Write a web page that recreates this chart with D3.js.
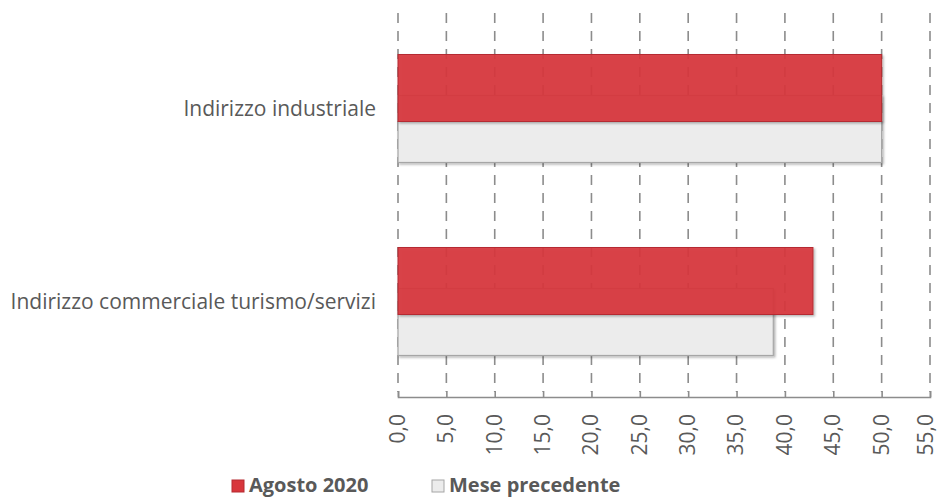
<!DOCTYPE html>
<html>
<head>
<script src="https://d3js.org/d3.v7.min.js"></script>
<style>
  body {margin: 0; background: #fff; font-family: "Open Sans", "Noto Sans", sans-serif;}
</style>
</head>
<body>
<script>
// chart data
const categories = ["Indirizzo industriale", "Indirizzo commerciale turismo/servizi"];
const agosto = [50.0, 42.9];
const precedente = [50.0, 38.8];
const seriesNames = ["Agosto 2020", "Mese precedente"];
const ticks = d3.range(0, 56, 5);

const width = 942, height = 499;
const svg = d3.select("body").append("svg")
  .attr("width", width).attr("height", height);

// scales
const x = d3.scaleLinear().domain([0, 55]).range([398, 930]);
const y = d3.scaleBand().domain(categories).range([12, 398]);
const barH = 67, off = 20.5;

// dashed vertical grid
svg.append("g").selectAll("line").data(ticks).join("line")
  .attr("x1", d => x(d)).attr("x2", d => x(d))
  .attr("y1", 13).attr("y2", 392)
  .attr("stroke", "#8c8c8c").attr("stroke-width", 1.6)
  .attr("stroke-dasharray", "10,8");

// soft shadow
const defs = svg.append("defs");
const f = defs.append("filter").attr("id", "sh").attr("x", "-5%").attr("y", "-10%").attr("width", "110%").attr("height", "130%");
f.append("feDropShadow").attr("dx", 1.5).attr("dy", 1.5).attr("stdDeviation", 1.2)
  .attr("flood-color", "#000").attr("flood-opacity", 0.3);

// grey bars (previous month)
svg.append("g").selectAll("rect").data(categories).join("rect")
  .attr("x", x(0))
  .attr("y", d => y(d) + y.bandwidth() / 2 + off - barH / 2)
  .attr("width", (d, i) => x(precedente[i]) - x(0))
  .attr("height", barH)
  .attr("fill", "#ececec")
  .attr("stroke", "#a6a6a6").attr("stroke-width", 1.2)
  .attr("filter", "url(#sh)");

// red bars (August 2020)
svg.append("g").selectAll("rect").data(categories).join("rect")
  .attr("x", x(0))
  .attr("y", d => y(d) + y.bandwidth() / 2 - off - barH / 2)
  .attr("width", (d, i) => x(agosto[i]) - x(0))
  .attr("height", barH)
  .attr("fill", "#d8363c").attr("fill-opacity", 0.92)
  .attr("stroke", "#b52a30").attr("stroke-width", 1)
  .attr("filter", "url(#sh)");

// category labels
svg.append("g").selectAll("text").data(categories).join("text")
  .attr("x", 376)
  .attr("y", d => y(d) + y.bandwidth() / 2)
  .attr("dy", "0.35em")
  .attr("text-anchor", "end")
  .attr("font-size", 21)
  .attr("fill", "#595959")
  .text(d => d);

// x axis
const axis = svg.append("g").attr("transform", "translate(0,397)")
  .call(d3.axisTop(x).tickValues(ticks).tickSize(6).tickFormat(""));
axis.select(".domain").attr("stroke", "#8c8c8c").attr("stroke-width", 1.6);
axis.selectAll(".tick line").attr("stroke", "#8c8c8c").attr("stroke-width", 1.6);

// rotated tick labels (last one nudged so it stays inside the page)
svg.append("g").selectAll("text").data(ticks).join("text")
  .attr("transform", d => `translate(${Math.min(x(d), 926)},414) rotate(-90)`)
  .attr("dy", "0.33em")
  .attr("text-anchor", "end")
  .attr("font-size", 21)
  .attr("fill", "#595959")
  .text(d => d3.format(".1f")(d).replace(".", ","));

// legend
const legend = svg.append("g");
const lx = [232, 432];
const lcol = [["#d8363c", "#b52a30"], ["#ececec", "#a6a6a6"]];
seriesNames.forEach((name, i) => {
  legend.append("rect")
    .attr("x", lx[i]).attr("y", 480).attr("width", 12).attr("height", 12)
    .attr("fill", lcol[i][0]).attr("stroke", lcol[i][1]);
  legend.append("text")
    .attr("x", lx[i] + 17).attr("y", 485).attr("dy", "0.35em")
    .attr("font-size", 20).attr("font-weight", "bold")
    .attr("fill", "#595959")
    .text(name);
});
</script>
</body>
</html>
